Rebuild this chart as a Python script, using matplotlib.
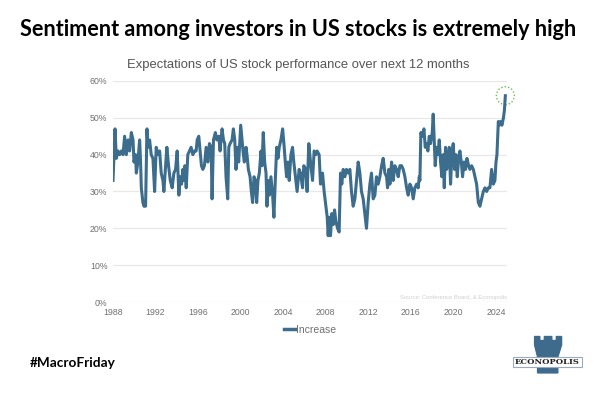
import numpy as np
import matplotlib.pyplot as plt
from matplotlib.patches import Ellipse, Polygon, Rectangle

# share of respondents expecting US stocks to rise over the next 12 months (%)
years = [
    1988.00, 1988.19, 1988.31, 1988.47, 1988.62, 1988.78, 1988.94, 1989.09, 1989.25, 1989.41,
    1989.56, 1989.72, 1989.88, 1989.97, 1990.12, 1990.19, 1990.34, 1990.50, 1990.59, 1990.66,
    1990.81, 1990.91, 1991.06, 1991.19, 1991.28, 1991.44, 1991.59, 1991.75, 1991.91, 1992.06,
    1992.22, 1992.38, 1992.53, 1992.69, 1992.78, 1992.94, 1993.06, 1993.22, 1993.38, 1993.56,
    1993.72, 1993.88, 1994.03, 1994.19, 1994.31, 1994.44, 1994.56, 1994.66, 1994.75, 1994.88,
    1995.03, 1995.19, 1995.34, 1995.50, 1995.66, 1995.81, 1995.91, 1996.06, 1996.19, 1996.31,
    1996.44, 1996.59, 1996.75, 1996.91, 1997.06, 1997.22, 1997.31, 1997.44, 1997.62, 1997.75,
    1997.94, 1998.06, 1998.25, 1998.38, 1998.50, 1998.62, 1998.78, 1998.88, 1999.00, 1999.19,
    1999.31, 1999.44, 1999.56, 1999.69, 1999.81, 2000.00, 2000.12, 2000.25, 2000.34, 2000.50,
    2000.59, 2000.72, 2000.88, 2001.00, 2001.12, 2001.25, 2001.38, 2001.50, 2001.62, 2001.75,
    2001.91, 2002.00, 2002.12, 2002.25, 2002.38, 2002.47, 2002.59, 2002.69, 2002.84, 2003.00,
    2003.12, 2003.25, 2003.38, 2003.50, 2003.62, 2003.78, 2003.94, 2004.06, 2004.19, 2004.31,
    2004.44, 2004.56, 2004.72, 2004.87, 2004.99, 2005.18, 2005.30, 2005.49, 2005.62, 2005.81,
    2005.93, 2006.12, 2006.24, 2006.40, 2006.56, 2006.75, 2006.90, 2007.06, 2007.18, 2007.37,
    2007.50, 2007.69, 2007.84, 2008.00, 2008.13, 2008.22, 2008.31, 2008.44, 2008.56, 2008.69,
    2008.82, 2008.94, 2009.10, 2009.25, 2009.38, 2009.50, 2009.63, 2009.79, 2009.94, 2010.10,
    2010.26, 2010.41, 2010.57, 2010.73, 2010.88, 2011.04, 2011.20, 2011.35, 2011.51, 2011.67,
    2011.82, 2011.98, 2012.14, 2012.29, 2012.45, 2012.61, 2012.76, 2012.92, 2013.08, 2013.24,
    2013.39, 2013.55, 2013.71, 2013.80, 2013.92, 2014.02, 2014.18, 2014.33, 2014.49, 2014.65,
    2014.80, 2014.96, 2015.12, 2015.27, 2015.43, 2015.59, 2015.74, 2015.90, 2016.06, 2016.21,
    2016.37, 2016.53, 2016.68, 2016.78, 2016.84, 2016.93, 2017.06, 2017.22, 2017.34, 2017.47,
    2017.59, 2017.72, 2017.84, 2018.00, 2018.09, 2018.19, 2018.28, 2018.41, 2018.53, 2018.66,
    2018.78, 2018.91, 2019.03, 2019.13, 2019.25, 2019.35, 2019.47, 2019.60, 2019.72, 2019.85,
    2019.97, 2020.10, 2020.23, 2020.35, 2020.48, 2020.60, 2020.73, 2020.85, 2020.98, 2021.13,
    2021.26, 2021.42, 2021.54, 2021.70, 2021.86, 2022.01, 2022.17, 2022.33, 2022.48, 2022.64,
    2022.80, 2022.95, 2023.11, 2023.27, 2023.42, 2023.58, 2023.74, 2023.89, 2023.99, 2024.08,
    2024.21, 2024.30, 2024.43, 2024.55, 2024.69, 2024.78, 2024.87,
]
increase = [
    33, 47, 39, 41, 40, 41, 40, 45, 40, 44,
    41, 46, 44, 38, 40, 35, 38, 44, 38, 31,
    27, 26, 26, 47, 42, 44, 40, 39, 30, 42,
    40, 41, 35, 33, 30, 37, 42, 37, 33, 31,
    35, 36, 41, 29, 34, 32, 36, 33, 37, 31,
    40, 41, 42, 40, 41, 41, 44, 45, 41, 37,
    36, 37, 42, 38, 43, 42, 28, 44, 46, 44,
    45, 41, 47, 44, 43, 34, 28, 42, 43, 44,
    47, 44, 36, 42, 38, 48, 44, 40, 38, 42,
    40, 36, 34, 30, 27, 34, 33, 27, 33, 35,
    41, 37, 46, 38, 35, 26, 33, 29, 34, 29,
    23, 33, 42, 39, 42, 44, 47, 43, 38, 34,
    38, 33, 40, 42, 38, 33, 30, 36, 35, 31,
    37, 36, 30, 43, 38, 33, 41, 40, 41, 40,
    32, 35, 30, 26, 23, 18, 23, 18, 24, 21,
    25, 22, 20, 19, 35, 32, 36, 34, 36, 35,
    36, 30, 26, 28, 33, 38, 35, 30, 28, 24,
    20, 27, 32, 35, 28, 29, 34, 32, 34, 37,
    39, 35, 34, 31, 36, 32, 38, 33, 37, 36,
    34, 37, 37, 36, 34, 31, 29, 32, 31, 28,
    31, 32, 31, 34, 33, 46, 45, 47, 42, 43,
    41, 45, 43, 46, 51, 44, 37, 42, 40, 44,
    38, 34, 40, 31, 42, 36, 38, 42, 32, 40,
    43, 36, 40, 34, 39, 41, 38, 34, 38, 36,
    39, 37, 36, 37, 36, 34, 32, 27, 26, 28,
    30, 31, 30, 31, 31, 36, 32, 33, 38, 40,
    49, 48, 49, 48, 50, 52, 56,
]
year_ticks = list(range(1988, 2025, 4))
pct_ticks = [0, 10, 20, 30, 40, 50, 60]

line_col = '#3d6d8d'

fig = plt.figure(figsize=(5.97, 3.98), dpi=100)
fig.patch.set_facecolor('white')

ax = fig.add_axes([0.1893, 0.2412, 0.6595, 0.5553])
ax.plot(years, increase, color=line_col, lw=2.2, solid_joinstyle='round', label='Increase')

# dotted circle around the latest reading
ax.add_patch(Ellipse((years[-1], increase[-1]), 1.7, 4.9, fill=False, clip_on=False,
                     edgecolor='#6cc04a', lw=1.0, ls=(0, (1, 1.5))))

ax.set_xlim(1988, 2025)
ax.set_ylim(0, 60)
ax.set_xticks(year_ticks)
ax.set_yticks(pct_ticks)
ax.set_yticklabels([f'{p}%' for p in pct_ticks])
ax.grid(axis='y', color='#e8e8e8', lw=0.9)
ax.set_axisbelow(True)
for s in ax.spines.values():
    s.set_visible(False)
ax.tick_params(length=0, labelsize=6.3, labelcolor='#707070', pad=4)
for t in ax.get_xticklabels() + ax.get_yticklabels():
    t.set_family('Liberation Sans')

ax.text(1.0, 0.01, 'Source: Conference Board, & Econopolis', transform=ax.transAxes,
        ha='right', va='bottom', fontsize=4.2, color='#d0d0d0', family='Liberation Sans')

leg = ax.legend(loc='upper center', bbox_to_anchor=(0.5, -0.06), frameon=False,
                handlelength=1.1, handletextpad=0.1,
                prop={'family': 'Liberation Sans', 'size': 7.5})
for t in leg.get_texts():
    t.set_color('#707070')
for h in leg.get_lines():
    h.set_linewidth(2.5)

fig.text(0.5, 0.925, 'Sentiment among investors in US stocks is extremely high',
         ha='center', va='center', fontsize=15.6, fontweight='bold', family='Lato')
fig.text(0.5, 0.837, 'Expectations of US stock performance over next 12 months',
         ha='center', va='center', fontsize=9.4, color='#555555', family='Liberation Sans')
fig.text(0.05, 0.088, '#MacroFriday', ha='left', va='center', fontsize=9.8,
         fontweight='bold', family='Lato')

# Econopolis logo: rook tower with a name plate
logo = fig.add_axes([0.854, 0.058, 0.1256, 0.1005])
logo.set_xlim(0, 100)
logo.set_ylim(0, 100)
logo.axis('off')
tower = [(37, 5), (37, 45), (33, 75), (33, 96), (40, 96), (40, 86), (46, 86), (46, 96),
         (56, 96), (56, 86), (62, 86), (62, 96), (69, 96), (69, 75), (64, 45), (64, 5)]
logo.add_patch(Polygon(tower, closed=True, color='#3e6b8c'))
logo.add_patch(Rectangle((4, 20), 92, 25, facecolor='white', edgecolor='#9aaabb', lw=0.8))
logo.text(50, 32.5, 'ECONOPOLIS', ha='center', va='center', fontsize=6.0,
          family='DejaVu Serif', fontweight='bold', color='#222222')

fig.savefig('out.png', dpi=100)
